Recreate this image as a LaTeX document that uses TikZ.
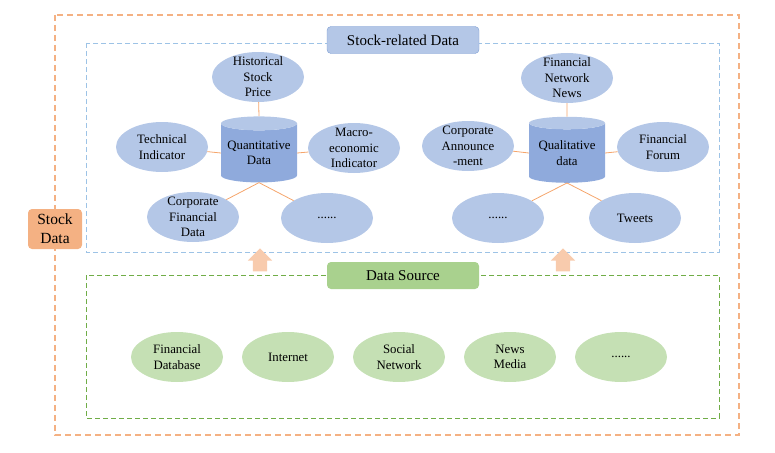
\documentclass[tikz,border=0pt]{standalone}
\usepackage{fontspec}
\setmainfont{Liberation Serif}
\usetikzlibrary{shapes.geometric,shapes.arrows}
\definecolor{qblue}{HTML}{B4C7E7}
\definecolor{cylbody}{HTML}{8FAADC}
\definecolor{ttlblue}{HTML}{7F9FD3}
\definecolor{dshblue}{HTML}{9DC3E6}
\definecolor{qgreen}{HTML}{C5E0B4}
\definecolor{dsgreen}{HTML}{A9D18E}
\definecolor{dshgreen}{HTML}{70AD47}
\definecolor{sdorange}{HTML}{F4B183}
\definecolor{lnorange}{HTML}{F5A56B}
\definecolor{arrorange}{HTML}{F8CBAD}
\newcommand{\es}{\fontsize{12.8}{15.5}\selectfont}
\newcommand{\ts}{\fontsize{15}{18}\selectfont}
\newcommand{\sdf}{\fontsize{15.5}{19}\selectfont}

\begin{document}
\begin{tikzpicture}[x=1pt,y=-1pt,
   el/.style={ellipse,minimum width=92pt,minimum height=50pt,inner xsep=0pt,inner ysep=-4pt,align=center,font=\es},
   bl/.style={el,fill=qblue},
   gr/.style={el,fill=qgreen},
   cyl/.style={cylinder,shape border rotate=90,aspect=0.22,minimum width=76pt,minimum height=66pt,
     cylinder uses custom fill,cylinder body fill=cylbody,cylinder end fill=qblue,align=center,font=\es,inner sep=0pt},
   ln/.style={draw=lnorange,line width=0.8pt},
   ttl/.style={rounded corners=4pt,minimum width=152pt,minimum height=27pt,font=\ts},
   up/.style={single arrow,shape border rotate=90,fill=arrorange,minimum height=23pt,minimum width=24pt,
     inner sep=7pt,single arrow head extend=5pt}]
   \useasboundingbox (0,0) rectangle (775,452);
   \draw[sdorange,line width=1.1pt,dash pattern=on 6pt off 4pt] (55,15) rectangle (739,435);
   \draw[dshblue,line width=0.9pt,dash pattern=on 5pt off 3pt] (86,43) rectangle (719,252);
   \draw[dshgreen,line width=0.9pt,dash pattern=on 5pt off 3pt] (86,275) rectangle (719,418);
   \node[ttl,fill=qblue,draw=ttlblue] (srd) at (403,40) {Stock-related Data};
   \node[ttl,fill=dsgreen] (dsrc) at (403,275.5) {Data Source};
   \node[fill=sdorange,rounded corners=4pt,minimum width=54pt,minimum height=40pt,inner sep=0pt,
     align=center,font=\sdf] (sd) at (55,229) {Stock\\Data};
   \node[up] (upl) at (260,263.5) {};
   \node[up] (upr) at (563,263.5) {};
   \node[cyl] (qn) at (259,153) {Quantitative\\Data};
   \node[bl] (hsp) at (258,77) {Historical\\Stock\\Price};
   \node[bl] (ti) at (162,147) {Technical\\Indicator};
   \node[bl] (mei) at (354,148) {Macro-\\economic\\Indicator};
   \node[bl] (cfd) at (193,217) {Corporate\\Financial\\Data};
   \node[bl] (qdots) at (327,218) {......};
   \draw[ln] (hsp) -- (qn.north);
   \draw[ln] (ti) -- (qn.west);
   \draw[ln] (mei) -- (qn.east);
   \draw[ln] (qn.south) -- (cfd);
   \draw[ln] (qn.south) -- (qdots);
   \node[cyl] (ql) at (567,153) {Qualitative\\data};
   \node[bl] (fnn) at (567,78) {Financial\\Network\\News};
   \node[bl] (ca) at (468,146) {Corporate\\Announce\\-ment};
   \node[bl] (ff) at (663,147) {Financial\\Forum};
   \node[bl] (ldots) at (498,218) {......};
   \node[bl] (tw) at (635,218) {Tweets};
   \draw[ln] (fnn) -- (ql.north);
   \draw[ln] (ca) -- (ql.west);
   \draw[ln] (ff) -- (ql.east);
   \draw[ln] (ql.south) -- (ldots);
   \draw[ln] (ql.south) -- (tw);
   \node[gr] (fdb) at (177,357) {Financial\\Database};
   \node[gr] (inet) at (288,357) {Internet};
   \node[gr] (snet) at (399,357) {Social\\Network};
   \node[gr] (nm) at (510,357) {News\\Media};
   \node[gr] (gdots) at (621,357) {......};
  \end{tikzpicture}
\end{document}
